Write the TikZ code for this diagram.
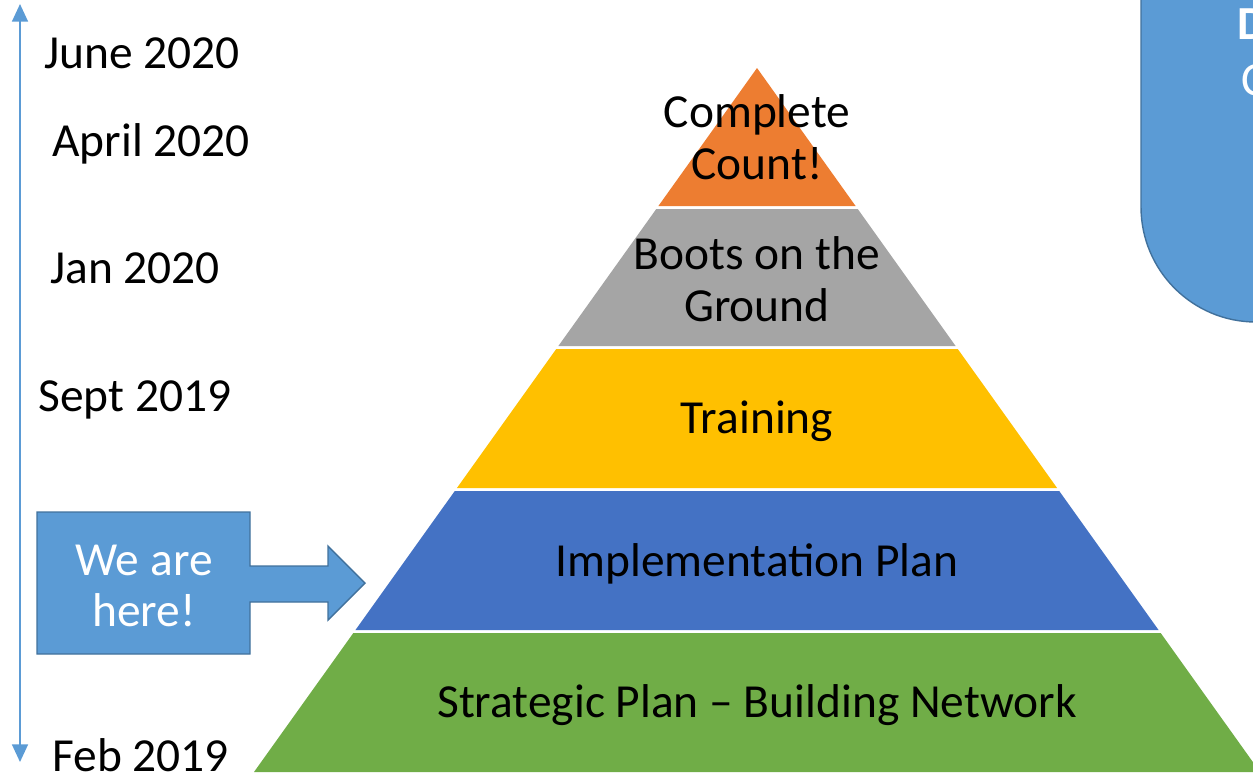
\documentclass[tikz,border=0pt]{standalone}
\usepackage{fontspec}
\setmainfont{Carlito}
\usetikzlibrary{arrows.meta}
\definecolor{peakorange}{HTML}{ED7D31}
\definecolor{bootgray}{HTML}{A5A5A5}
\definecolor{trainyellow}{HTML}{FFC000}
\definecolor{planblue}{HTML}{4472C4}
\definecolor{netgreen}{HTML}{70AD47}
\definecolor{callblue}{HTML}{5B9BD5}
\definecolor{callrim}{HTML}{41719C}
\begin{document}
\begin{tikzpicture}[x=0.02cm,y=-0.02cm]
	\tikzset{every node/.style={inner sep=0pt, font=\fontsize{27}{29.5}\selectfont, align=center}}
	\tikzset{datelbl/.style={anchor=west}}
	\tikzset{callbox/.style={fill=callblue, draw=callrim, line width=0.8pt}}
	\useasboundingbox (0,0) rectangle (1253,772);
	% pyramid layers
	\foreach \ya/\yb/\col in {68/206/peakorange, 209/346/bootgray, 349/488/trainyellow, 491/630/planblue, 633/772/netgreen}
		\fill [\col] ({757-0.7145*(\ya-68)},\ya) -- ({757+0.7145*(\ya-68)},\ya) -- ({757+0.7145*(\yb-68)},\yb) -- ({757-0.7145*(\yb-68)},\yb) -- cycle;
	\node (lvA) at (757,137) {Complete\\Count!};
	\node (lvB) at (757,279) {Boots on the\\Ground};
	\node (lvC) at (757,421) {Training};
	\node (lvD) at (757,564) {Implementation Plan};
	\node (lvE) at (757,705) {Strategic Plan -- Building Network};
	% timeline
	\coordinate (tTop) at (20,4);
	\coordinate (tBot) at (20,762);
	\draw [callblue, line width=1.1pt, {Triangle[width=9pt,length=10pt]}-{Triangle[width=9pt,length=10pt]}] (tTop) -- (tBot);
	\node [datelbl] (dJun) at (44,53) {June 2020};
	\node [datelbl] (dApr) at (52,144) {April 2020};
	\node [datelbl] (dJan) at (50,268) {Jan 2020};
	\node [datelbl] (dSep) at (38,400) {Sept 2019};
	\node [datelbl] (dFeb) at (52,755) {Feb 2019};
	% we are here callout
	\draw [callbox] (37,512) -- (250,512) -- (250,566) -- (328,566) -- (328,546) -- (365,583) -- (328,620) -- (328,602) -- (250,602) -- (250,654) -- (37,654) -- cycle;
	\node [text=white] (here) at (144,586) {We are\\here!};
	% corner box, cut off
	\draw [callbox] (1141,-5) -- (1141,207) arc (180:90:115) -- (1265,322) -- (1265,-5) -- cycle;
	\node [text=white, anchor=west] (boxD) at (1237,24) {\textbf{D}};
	\node [text=white, anchor=west] (boxC) at (1241,80) {C};
\end{tikzpicture}
\end{document}
